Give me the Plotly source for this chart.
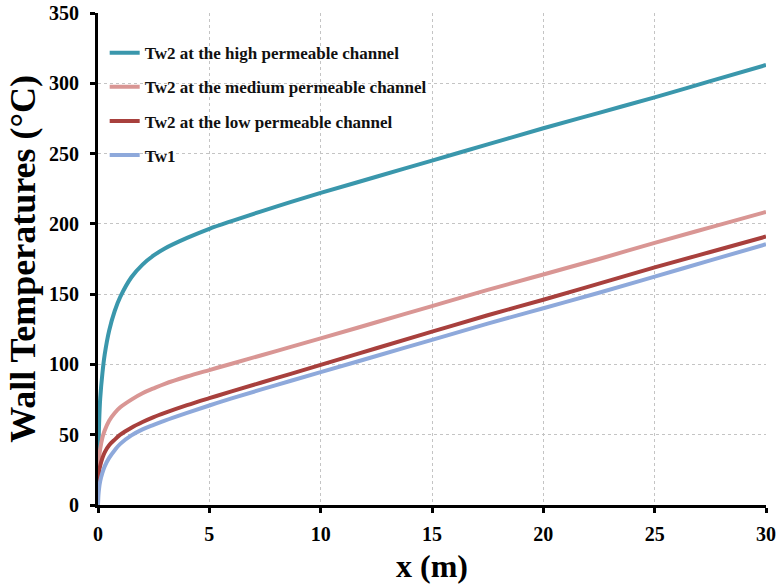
import plotly.graph_objects as go

# Distance along the channel (m)
x_m = [0, 0.02, 0.05, 0.1, 0.2, 0.3, 0.5, 0.75, 1, 1.5, 2, 2.5, 3, 4, 5, 6, 8,
       10, 12.5, 15, 17.5, 20, 22.5, 25, 27.5, 30]

# Wall temperatures (°C)
tw2_high = [15, 38, 58, 76, 94, 107, 124, 138, 148, 162, 171, 177.5, 182.5, 190, 196.5, 202, 212.3,
            222, 233.5, 245, 256.5, 268, 279, 290, 301.5, 313]
tw2_medium = [15, 27, 34, 40, 48, 53, 60, 65.5, 69.5, 75, 79.5, 83, 86.2, 91.4, 96, 100.5, 109.5,
              118.5, 130, 141.5, 153, 164, 175, 186.5, 197.5, 208.5]
tw2_low = [15, 20, 24, 28, 33.5, 37.5, 42.5, 46.5, 50, 55, 59, 62.5, 65.5, 71, 76, 80.8, 90.2,
           99.7, 111.5, 123.3, 135, 146, 157.5, 169, 180, 191]
tw1 = [0, 7, 12, 17, 23, 27.5, 33.5, 39, 43.5, 49.5, 53.8, 57, 60, 65.5, 70.8, 75.8, 85.3,
       94.5, 106, 117.5, 129, 140, 151, 162.5, 174, 185.5]

series = [
    ("Tw2 at the high permeable channel", tw2_high, "#3A97AC"),
    ("Tw2 at the medium permeable channel", tw2_medium, "#D99694"),
    ("Tw2 at the low permeable channel", tw2_low, "#A8403D"),
    ("Tw1", tw1, "#8EA9DB"),
]

x_ticks = [0, 5, 10, 15, 20, 25, 30]
y_ticks = [0, 50, 100, 150, 200, 250, 300, 350]

SERIF = "Liberation Serif, Times New Roman, serif"

fig = go.Figure()
for i, (name, y, color) in enumerate(series):
    fig.add_trace(go.Scatter(
        x=x_m, y=y, name=f"<b>{name}</b>", mode="lines",
        line=dict(color=color, width=4, shape="spline", smoothing=1.0),
        legendgroup=f"g{i}",
    ))

axis_common = dict(
    showline=True, linecolor="black", linewidth=3,
    ticks="outside", ticklen=5, tickwidth=3, tickcolor="black",
    showgrid=True, gridcolor="#C4C4C4", gridwidth=1, griddash="dot",
    zeroline=False, automargin=False,
    tickfont=dict(family=SERIF, size=20, color="black"),
)

fig.update_xaxes(
    range=[0, 30], tickmode="array", tickvals=x_ticks,
    ticktext=[f"<b>{v}</b>" for v in x_ticks],
    ticklabelstandoff=4,
    title=dict(text="<b>x (m)</b>", font=dict(family=SERIF, size=32, color="black"), standoff=14),
    **axis_common,
)
fig.update_yaxes(
    range=[0, 350], tickmode="array", tickvals=y_ticks,
    ticktext=[f"<b>{v}</b>" for v in y_ticks],
    ticklabelstandoff=7,
    title=dict(text="<b>Wall Temperatures (°C)</b>", font=dict(family=SERIF, size=36, color="black"), standoff=3),
    **axis_common,
)

fig.update_layout(
    width=777, height=584,
    margin=dict(l=98, r=11, t=13, b=79),
    paper_bgcolor="white", plot_bgcolor="white",
    showlegend=True,
    legend=dict(
        x=0.01, y=0.955, xanchor="left", yanchor="top",
        bgcolor="rgba(0,0,0,0)",
        font=dict(family=SERIF, size=17, color="#111111"),
        tracegroupgap=9,
    ),
)

fig.write_html("out.html")
